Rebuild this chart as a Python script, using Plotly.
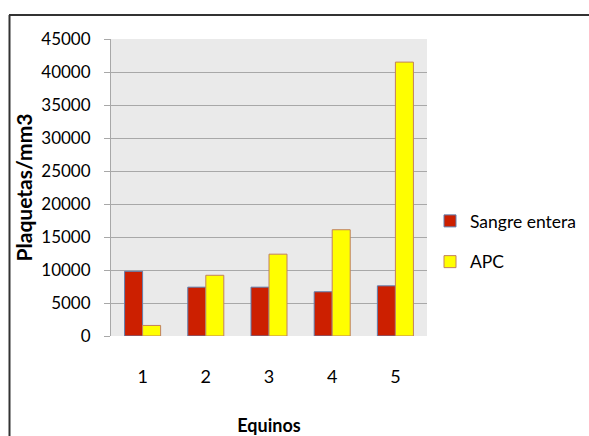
import plotly.graph_objects as go

categories = ["1", "2", "3", "4", "5"]
sangre_entera = [9800, 7400, 7400, 6700, 7600]
apc = [1600, 9200, 12400, 16100, 41500]
y_ticks = [0, 5000, 10000, 15000, 20000, 25000, 30000, 35000, 40000, 45000]

W, H = 589, 436
L, R, T, B = 111, 162, 39, 100
pw, ph = W - L - R, H - T - B

fig = go.Figure()
fig.add_trace(go.Bar(x=categories, y=sangre_entera, name="Sangre entera", legendgroup="a",
                     marker=dict(color="#CC1F00", line=dict(color="#5F7FAF", width=1))))
fig.add_trace(go.Bar(x=categories, y=apc, name="APC", legendgroup="b",
                     marker=dict(color="#FFFF00", line=dict(color="#C08060", width=1))))

font = "Lato, 'Open Sans', sans-serif"

def px_x(p):
    return (p - L) / pw

def px_y(p):
    return (H - B - p) / ph

shapes = [
    dict(type="line", xref="paper", yref="paper", x0=px_x(9), x1=px_x(589), y0=px_y(15), y1=px_y(15),
         line=dict(color="#333333", width=2)),
    dict(type="line", xref="paper", yref="paper", x0=px_x(9.5), x1=px_x(9.5), y0=px_y(15), y1=px_y(436),
         line=dict(color="#333333", width=2)),
]

fig.update_layout(
    width=W, height=H,
    margin=dict(l=L, r=R, t=T, b=B, autoexpand=False),
    paper_bgcolor="white",
    plot_bgcolor="#EAEAEA",
    barmode="group",
    bargap=0.43,
    bargroupgap=0,
    font=dict(family=font, color="#000000", size=17),
    showlegend=True,
    legend=dict(x=px_x(430), y=px_y(203), xanchor="left", yanchor="top",
                font=dict(size=17.5, family=font), bgcolor="rgba(0,0,0,0)",
                tracegroupgap=15, itemwidth=30),
    xaxis=dict(
        title=dict(text="<b>Equinos</b>", font=dict(size=18, family=font), standoff=36),
        tickfont=dict(size=18, family=font),
        showgrid=False, showline=False, ticks="", ticklabelstandoff=28,
    ),
    yaxis=dict(
        title=dict(text="<b>Plaquetas/mm3</b>", font=dict(size=21, family=font), standoff=2),
        range=[0, 45000], tickvals=y_ticks, ticktext=[str(v) for v in y_ticks],
        tickfont=dict(size=17, family=font),
        showgrid=True, gridcolor="#A8A8A8", gridwidth=1,
        showline=True, linecolor="#A8A8A8", linewidth=1,
        ticks="outside", ticklen=6, tickcolor="#A8A8A8",
        ticklabelstandoff=10,
        zeroline=False,
    ),
    shapes=shapes,
)

fig.write_html("out.html", config={"displayModeBar": False},
               post_script="document.body.style.margin='0';")
